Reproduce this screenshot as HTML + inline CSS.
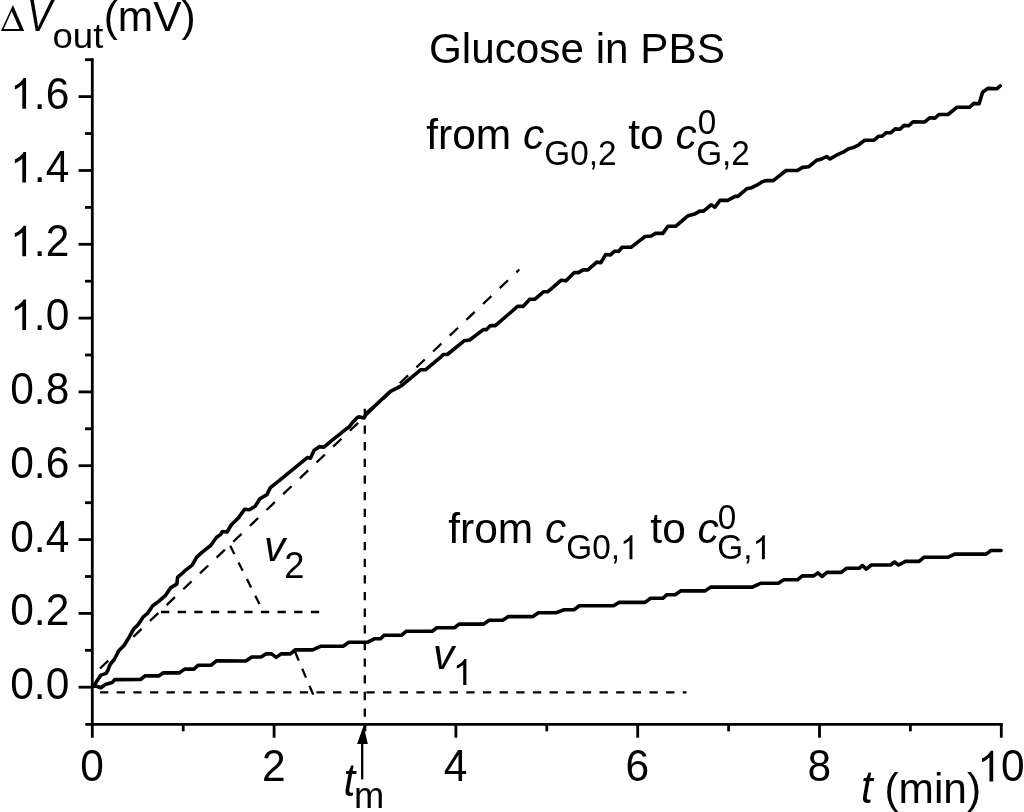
<!DOCTYPE html>
<html><head><meta charset="utf-8"><style>
html,body{margin:0;padding:0;background:#fff;}
svg{display:block;will-change:transform;}
text{font-family:"Liberation Sans",sans-serif;fill:#000;}
</style></head><body>
<svg width="1024" height="812" viewBox="0 0 1024 812">
<rect width="1024" height="812" fill="#fff"/>
<g stroke="#000" stroke-width="2.8" fill="none" stroke-linecap="butt">
<line x1="92.3" y1="58.3" x2="92.3" y2="737.7"/>
<line x1="85.3" y1="724.3" x2="1002.7" y2="724.3"/>
<line x1="78.6" y1="687.2" x2="92.3" y2="687.2"/>
<line x1="78.6" y1="613.4" x2="92.3" y2="613.4"/>
<line x1="78.6" y1="539.6" x2="92.3" y2="539.6"/>
<line x1="78.6" y1="465.7" x2="92.3" y2="465.7"/>
<line x1="78.6" y1="391.9" x2="92.3" y2="391.9"/>
<line x1="78.6" y1="318.1" x2="92.3" y2="318.1"/>
<line x1="78.6" y1="244.3" x2="92.3" y2="244.3"/>
<line x1="78.6" y1="170.5" x2="92.3" y2="170.5"/>
<line x1="78.6" y1="96.6" x2="92.3" y2="96.6"/>
<line x1="85" y1="650.3" x2="92.3" y2="650.3"/>
<line x1="85" y1="576.5" x2="92.3" y2="576.5"/>
<line x1="85" y1="502.7" x2="92.3" y2="502.7"/>
<line x1="85" y1="428.8" x2="92.3" y2="428.8"/>
<line x1="85" y1="355.0" x2="92.3" y2="355.0"/>
<line x1="85" y1="281.2" x2="92.3" y2="281.2"/>
<line x1="85" y1="207.4" x2="92.3" y2="207.4"/>
<line x1="85" y1="133.5" x2="92.3" y2="133.5"/>
<line x1="85" y1="59.7" x2="92.3" y2="59.7"/>
<line x1="274.1" y1="724.3" x2="274.1" y2="737.7"/>
<line x1="455.9" y1="724.3" x2="455.9" y2="737.7"/>
<line x1="637.7" y1="724.3" x2="637.7" y2="737.7"/>
<line x1="819.5" y1="724.3" x2="819.5" y2="737.7"/>
<line x1="1001.3" y1="724.3" x2="1001.3" y2="737.7"/>
<line x1="183.2" y1="724.3" x2="183.2" y2="731.3"/>
<line x1="365.0" y1="724.3" x2="365.0" y2="731.3"/>
<line x1="546.8" y1="724.3" x2="546.8" y2="731.3"/>
<line x1="728.6" y1="724.3" x2="728.6" y2="731.3"/>
<line x1="910.4" y1="724.3" x2="910.4" y2="731.3"/>
</g>
<g stroke="#000" stroke-width="2.3" fill="none">
<line x1="100.0" y1="668.5" x2="519.3" y2="269.5" stroke-dasharray="11.46 11.53" stroke-dashoffset="0.00"/>
<line x1="161.0" y1="612" x2="319.6" y2="612" stroke-dasharray="8.30 8.35" stroke-dashoffset="0.00"/>
<line x1="230.2" y1="545.8" x2="259.9" y2="605" stroke-dasharray="9.29 9.34" stroke-dashoffset="0.00"/>
<line x1="364.8" y1="408.8" x2="364.8" y2="724" stroke-dasharray="8.30 8.35" stroke-dashoffset="0.00"/>
<line x1="100.0" y1="692.3" x2="686.5" y2="692.3" stroke-dasharray="8.30 8.35" stroke-dashoffset="0.00"/>
<line x1="295.0" y1="651.8" x2="313.2" y2="694.6" stroke-dasharray="9.56 8.91" stroke-dashoffset="0.00"/>
</g>
<g stroke="#000" stroke-width="3.6" fill="none" stroke-linejoin="round" stroke-linecap="round">
<polyline points="93.4,686.2 95.8,682.8 98.8,678.1 100.9,675.1 106.1,673.4 108.3,669.5 109.6,665.6 111.3,663.0 113.9,660.0 119.0,650.5 124.2,645.3 129.4,636.7 133.7,629.0 138.0,624.7 143.2,616.9 147.5,613.4 152.7,605.7 158.7,601.4 165.6,595.3 170.8,587.6 176.8,584.1 177.7,577.2 183.7,572.1 185.0,570.6 192.0,565.4 196.7,557.2 202.5,551.9 210.7,545.5 216.6,537.3 220.7,534.4 222.4,531.5 227.1,532.0 231.2,525.0 238.8,517.4 244.6,509.2 249.3,509.8 255.2,506.3 259.9,498.7 266.9,494.6 270.4,487.6 278.6,481.2 307.3,457.6 310.4,458.3 314.1,450.2 319.6,446.6 323.9,447.2 331.9,440.4 338.0,435.6 345.0,429.9 349.6,426.5 352.7,422.2 357.6,417.2 359.5,416.9 364.1,417.9 366.6,413.2 376.0,404.9 390.4,391.3 398.4,387.3 401.6,385.7 420.9,369.7 425.7,369.7 440.1,357.7 443.3,354.5 447.3,354.5 464.1,340.8 469.7,340.0 483.3,329.6 486.5,329.6 490.5,325.6 495.3,325.6 510.0,313.0 517.5,306.4 523.0,306.4 529.8,299.3 534.6,299.3 543.5,291.8 547.6,291.8 561.3,280.2 566.1,280.8 574.3,272.6 578.4,272.6 583.1,269.9 587.9,269.9 596.8,262.1 600.9,262.7 605.7,254.5 610.5,254.9 614.6,251.2 618.7,251.2 622.1,247.3 631.0,247.3 640.0,240.3 645.1,236.5 651.4,236.0 655.2,233.4 662.9,233.4 667.9,226.3 675.6,226.3 688.2,215.7 694.6,214.1 699.7,211.1 703.5,211.1 711.1,204.8 714.9,207.3 720.0,200.4 727.6,200.4 735.2,196.4 737.8,196.4 746.7,188.8 751.7,187.7 756.8,185.2 761.9,181.9 765.7,180.6 773.3,180.6 786.0,170.5 797.4,170.5 802.5,167.4 808.9,166.7 816.5,160.3 821.6,159.0 826.6,156.5 830.0,159.0 835.5,155.7 843.1,152.2 848.2,148.9 853.3,147.6 858.4,145.1 860.0,143.8 864.7,140.2 874.1,140.2 878.4,136.3 881.9,136.3 886.2,132.7 890.9,132.7 895.2,128.9 899.8,129.3 904.1,125.4 908.8,125.8 913.1,121.7 924.8,122.0 929.5,117.8 935.0,118.1 938.9,114.5 948.0,114.5 956.8,107.3 969.7,107.3 973.8,103.4 979.1,103.8 982.6,92.3 987.9,88.4 996.7,88.8 1000.2,85.8"/>
<polyline points="93.4,686.2 96.6,686.3 100.9,687.8 105.2,684.6 109.6,683.3 112.1,682.6 114.7,679.6 140.6,679.5 144.9,675.9 158.7,675.9 163.0,672.9 179.4,672.9 184.6,669.1 194.0,669.1 198.3,665.2 211.3,665.2 216.4,660.9 245.9,661.0 251.7,657.0 261.1,657.0 265.8,653.9 271.6,653.9 276.3,657.4 281.0,653.9 290.4,653.9 295.1,649.9 312.7,649.9 320.9,646.2 343.1,646.2 349.0,642.2 367.7,642.2 374.8,638.7 380.6,638.7 384.1,635.2 401.7,635.2 406.4,631.2 432.2,631.2 436.9,627.7 454.4,627.7 459.1,624.1 483.7,624.1 489.1,620.2 502.8,620.2 508.3,616.6 532.9,616.6 538.4,612.8 556.1,612.8 564.3,609.8 573.9,609.8 579.4,605.7 613.6,605.7 619.0,602.4 645.0,602.4 650.5,598.3 662.8,598.3 666.9,594.7 675.1,594.7 680.6,590.9 705.2,590.9 710.6,587.1 752.3,587.1 760.5,583.3 778.3,583.3 783.8,579.8 797.4,579.8 802.3,575.9 813.8,575.9 817.9,572.9 822.0,576.5 827.0,572.4 841.2,572.4 846.6,568.3 859.0,568.3 862.5,565.5 866.3,569.1 871.3,565.0 890.4,565.0 894.5,562.0 898.6,565.0 905.4,561.4 919.1,561.4 923.8,557.3 947.8,557.3 954.7,554.1 986.1,554.1 991.0,550.5 1001.1,550.5"/>
</g>
<polygon points="363.6,725.5 357.1,744 367.8,744" fill="#000"/>
<line x1="362.2" y1="743" x2="362.2" y2="779.4" stroke="#000" stroke-width="2.3"/>
<text transform="translate(10.22,699.20) scale(1.0,1.04)" font-size="42.5">0.0</text>
<text transform="translate(10.22,625.38) scale(1.0,1.04)" font-size="42.5">0.2</text>
<text transform="translate(10.22,551.56) scale(1.0,1.04)" font-size="42.5">0.4</text>
<text transform="translate(10.22,477.74) scale(1.0,1.04)" font-size="42.5">0.6</text>
<text transform="translate(10.22,403.92) scale(1.0,1.04)" font-size="42.5">0.8</text>
<path transform="translate(10.22,330.10) scale(0.02075,-0.02075)" d="M763 0H583V1147Q518 1085 412 1023T223 930V1104Q373 1175 485 1276T644 1472H763Z"/>
<text transform="translate(33.86,330.10) scale(1.0,1.04)" font-size="42.5">.0</text>
<path transform="translate(10.22,256.28) scale(0.02075,-0.02075)" d="M763 0H583V1147Q518 1085 412 1023T223 930V1104Q373 1175 485 1276T644 1472H763Z"/>
<text transform="translate(33.86,256.28) scale(1.0,1.04)" font-size="42.5">.2</text>
<path transform="translate(10.22,182.46) scale(0.02075,-0.02075)" d="M763 0H583V1147Q518 1085 412 1023T223 930V1104Q373 1175 485 1276T644 1472H763Z"/>
<text transform="translate(33.86,182.46) scale(1.0,1.04)" font-size="42.5">.4</text>
<path transform="translate(10.22,108.64) scale(0.02075,-0.02075)" d="M763 0H583V1147Q518 1085 412 1023T223 930V1104Q373 1175 485 1276T644 1472H763Z"/>
<text transform="translate(33.86,108.64) scale(1.0,1.04)" font-size="42.5">.6</text>
<text transform="translate(80.18,781.40) scale(1.0,1.04)" font-size="42.5">0</text>
<text transform="translate(261.98,781.40) scale(1.0,1.04)" font-size="42.5">2</text>
<text transform="translate(443.78,781.40) scale(1.0,1.04)" font-size="42.5">4</text>
<text transform="translate(625.58,781.40) scale(1.0,1.04)" font-size="42.5">6</text>
<text transform="translate(807.38,781.40) scale(1.0,1.04)" font-size="42.5">8</text>
<path transform="translate(977.36,781.40) scale(0.02075,-0.02075)" d="M763 0H583V1147Q518 1085 412 1023T223 930V1104Q373 1175 485 1276T644 1472H763Z"/>
<text transform="translate(1001.00,781.40) scale(1.0,1.04)" font-size="42.5">0</text>
<text transform="translate(428.98,63.20) scale(0.994,1.02)" font-size="42.5">Glucose&#160;in&#160;PBS</text>
<path fill="#000" fill-rule="evenodd" d="M12.9 5L1 31H24.2ZM11.7 11.2L3.7 29.1H19.5Z"/>
<text transform="translate(26.90,30.80) scale(0.88,1.04)" font-size="42.5" font-style="italic">V</text>
<text transform="translate(52.46,47.90) scale(1.0,0.97)" font-size="36.6">out</text>
<text transform="translate(103.66,30.80) scale(1.0,1.02)" font-size="42.5">(mV)</text>
<text transform="translate(860.90,802.80) scale(1.0,1.1)" font-size="42.5" font-style="italic">t</text>
<text transform="translate(884.40,802.80) scale(1.0,1.02)" font-size="42.5">(min)</text>
<text transform="translate(343.50,795.90) scale(1.0,1.1)" font-size="42.5" font-style="italic">t</text>
<text transform="translate(354.09,808.30) scale(1.0,1.0)" font-size="36.3">m</text>
<text transform="translate(264.00,561.40) scale(1.0,1.0)" font-size="42.5" font-style="italic">v</text>
<text transform="translate(284.18,577.70) scale(1.0,1.04)" font-size="36.4">2</text>
<text transform="translate(433.00,668.50) scale(1.0,1.0)" font-size="42.5" font-style="italic">v</text>
<path transform="translate(452.84,685.10) scale(0.01777,-0.01777)" d="M763 0H583V1147Q518 1085 412 1023T223 930V1104Q373 1175 485 1276T644 1472H763Z"/>
<text transform="translate(426.20,149.40) scale(1.0,1.02)" font-size="42.5">from&#160;</text>
<text transform="translate(523.01,149.40) scale(1.0,1.0)" font-size="42.5" font-style="italic">c</text>
<text transform="translate(544.26,165.10) scale(1.0,1.04)" font-size="33.3">G0,2</text>
<text transform="translate(616.45,149.40) scale(1.0,1.02)" font-size="42.5">&#160;to&#160;</text>
<text transform="translate(675.51,149.40) scale(1.0,1.0)" font-size="42.5" font-style="italic">c</text>
<text transform="translate(697.70,133.90) scale(1.0,1.04)" font-size="33.3">0</text>
<text transform="translate(696.20,165.10) scale(1.0,1.04)" font-size="33.3">G,2</text>
<text transform="translate(448.30,542.90) scale(1.0,1.02)" font-size="42.5">from&#160;</text>
<text transform="translate(545.11,542.90) scale(1.0,1.0)" font-size="42.5" font-style="italic">c</text>
<text transform="translate(566.36,559.20) scale(1.0,1.04)" font-size="33.3">G0,</text>
<path transform="translate(620.03,559.20) scale(0.01626,-0.01626)" d="M763 0H583V1147Q518 1085 412 1023T223 930V1104Q373 1175 485 1276T644 1472H763Z"/>
<text transform="translate(638.55,542.90) scale(1.0,1.02)" font-size="42.5">&#160;to&#160;</text>
<text transform="translate(697.61,542.90) scale(1.0,1.0)" font-size="42.5" font-style="italic">c</text>
<text transform="translate(717.70,528.90) scale(1.0,1.04)" font-size="33.3">0</text>
<text transform="translate(717.30,559.20) scale(1.0,1.04)" font-size="33.3">G,</text>
<path transform="translate(752.45,559.20) scale(0.01626,-0.01626)" d="M763 0H583V1147Q518 1085 412 1023T223 930V1104Q373 1175 485 1276T644 1472H763Z"/>
</svg>
</body></html>
